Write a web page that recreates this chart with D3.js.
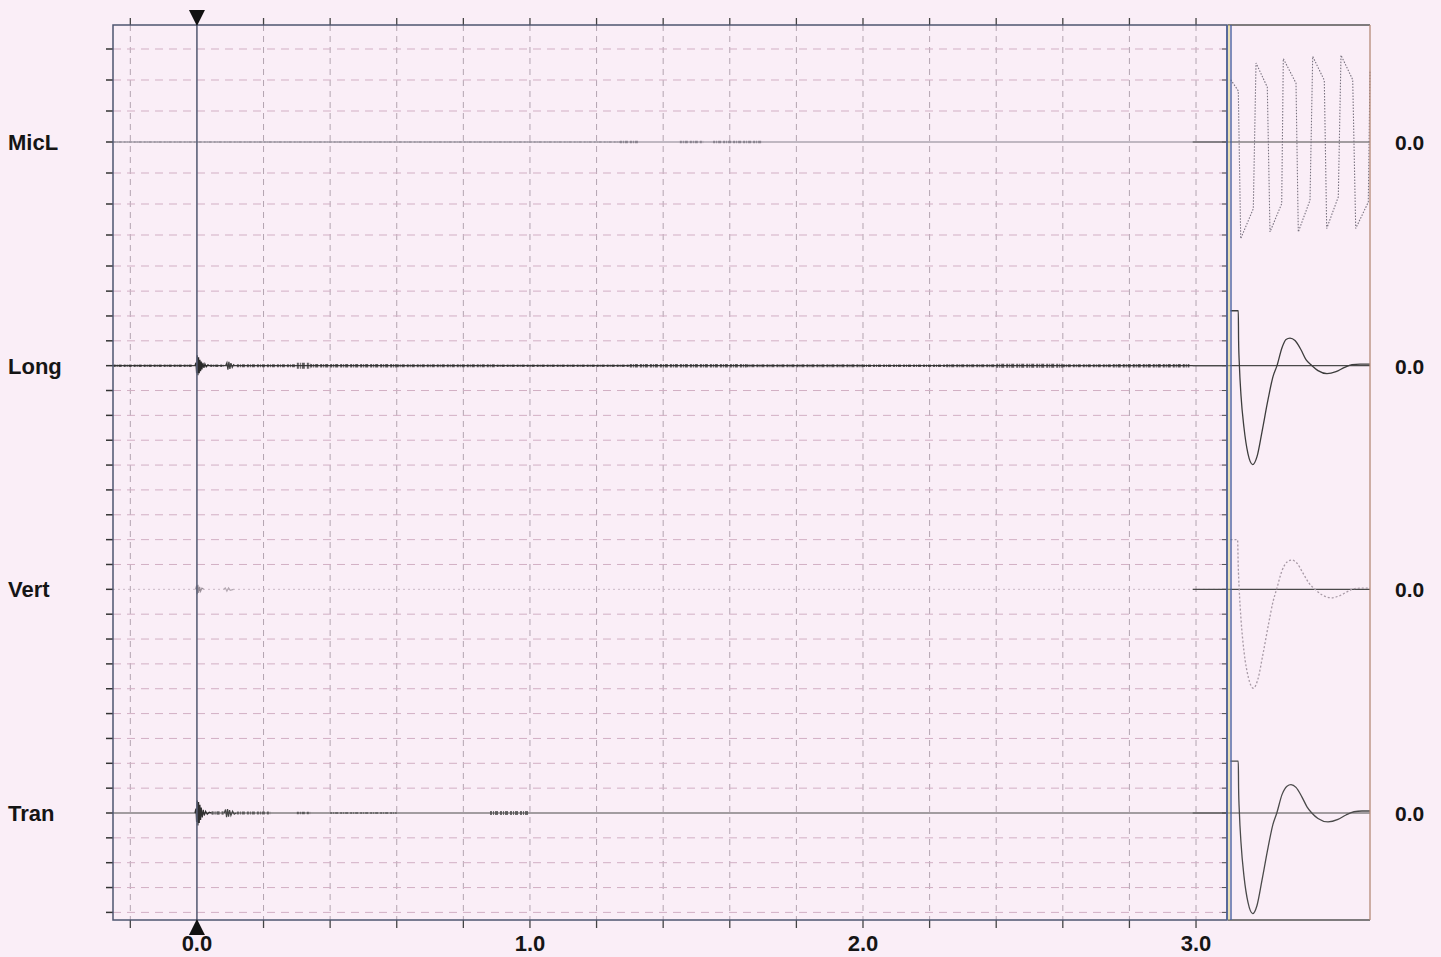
<!DOCTYPE html>
<html>
<head>
<meta charset="utf-8">
<script src="https://cdn.jsdelivr.net/npm/d3@7"></script>
<style>
  body { margin: 0; background: #faeef7; }
  svg { display: block; }
  text { font-family: "Liberation Sans", Arial, sans-serif; font-weight: bold; fill: #151515; }
</style>
</head>
<body>
<script>
// channels and their tick divisions (relative to the 0.0 baseline, + is up)
const channels = ["MicL", "Long", "Vert", "Tran"];
const tickFrom = [-4, -5, -5, -4];
const tickTo = [3, 3, 3, 3];
const zeroLabels = ["0.0", "0.0", "0.0", "0.0"];

// time axis (s)
const timeTicks = [-0.2, 0, 0.2, 0.4, 0.6, 0.8, 1.0, 1.2, 1.4, 1.6, 1.8, 2.0, 2.2, 2.4, 2.6, 2.8, 3.0];
const timeLabelValues = [0, 1, 2, 3];
const timeLabels = ["0.0", "1.0", "2.0", "3.0"];
const cursorTime = 0;

// impact bursts in main window: [time s, value div]
const longBurst = [[-0.006, 0], [-0.003, 0.12], [-0.001, -0.3], [0.001, 0.42], [0.003, -0.38], [0.005, 0.34], [0.007, -0.3], [0.009, 0.24], [0.011, -0.22], [0.013, 0.17], [0.015, -0.15], [0.018, 0.11], [0.021, -0.09], [0.024, 0.07], [0.028, -0.05], [0.033, 0.04], [0.038, 0]];
const longBurst2 = [[0.086, 0], [0.09, 0.12], [0.093, -0.16], [0.096, 0.15], [0.099, -0.13], [0.102, 0.1], [0.106, -0.07], [0.11, 0.04], [0.114, 0]];
const vertBurst = [[-0.004, 0], [-0.001, 0.15], [0.001, -0.2], [0.003, 0.18], [0.005, -0.14], [0.008, 0.1], [0.011, -0.08], [0.015, 0.05], [0.02, 0]];
const vertBurst2 = [[0.08, 0], [0.085, 0.06], [0.09, -0.07], [0.095, 0.06], [0.1, -0.04], [0.11, 0]];
const tranBurst = [[-0.006, 0], [-0.003, 0.18], [-0.001, -0.36], [0.001, 0.5], [0.003, -0.5], [0.005, 0.44], [0.007, -0.4], [0.009, 0.33], [0.011, -0.28], [0.013, 0.22], [0.016, -0.18], [0.019, 0.13], [0.022, -0.1], [0.026, 0.07], [0.031, -0.05], [0.037, 0.03], [0.044, 0]];
const tranBurst2 = [[0.082, 0], [0.086, 0.14], [0.089, -0.17], [0.092, 0.16], [0.095, -0.15], [0.098, 0.12], [0.102, -0.1], [0.107, 0.07], [0.112, -0.05], [0.118, 0]];

// background noise bands: [t start, t end, half amplitude div]
const longNoise = [[-0.25, -0.01, 0.05], [0.04, 0.08, 0.05], [0.12, 0.3, 0.06], [0.3, 0.34, 0.12], [0.34, 0.6, 0.07], [0.6, 0.9, 0.06], [0.9, 1.3, 0.05], [1.3, 1.65, 0.07], [1.65, 2.0, 0.06], [2.0, 2.25, 0.05], [2.25, 2.4, 0.06], [2.4, 2.6, 0.08], [2.6, 2.75, 0.06], [2.75, 2.98, 0.07]];
const micNoise = [[-0.25, 1.27, 0.02], [1.27, 1.33, 0.04], [1.45, 1.52, 0.04], [1.55, 1.7, 0.04]];
const tranNoise = [[0.044, 0.08, 0.07], [0.12, 0.22, 0.06], [0.3, 0.34, 0.05], [0.4, 0.6, 0.03], [0.88, 1.0, 0.08]];

// zoomed window (ms): [time, value div]
const micZoom = [[0.35, 2.01], [4.15, 1.65], [5.35, -3.12], [11.65, -2.15], [13, 2.55], [18.65, 1.77], [20, -2.9], [25.85, -1.99], [26.65, 2.69], [33, 1.9], [34.15, -2.9], [40, -1.88], [41.35, 2.76], [47.15, 1.99], [48.35, -2.79], [54.15, -1.77], [55.5, 2.8], [61.35, 2.01], [62.85, -2.79], [69.15, -1.94], [70, 2.3]];
const longZoom = [[0.25, 2.21], [4.15, 2.21], [4.3, 1.0], [4.7, 0], [5.5, -1.2], [7, -2.5], [9, -3.55], [11.35, -3.98], [13.5, -3.66], [16, -2.66], [19, -1.37], [21.5, -0.44], [23.5, 0], [26, 0.72], [28, 1.05], [30, 1.11], [32.5, 1.01], [35.5, 0.64], [38, 0.24], [41, 0], [44, -0.2], [48.5, -0.32], [53, -0.24], [57, -0.08], [61, 0.04], [65, 0.06], [70, 0.06]];
const vertZoom = [[0.25, 2.0], [3.8, 2.0], [4.1, 1.0], [4.6, 0], [5.5, -1.2], [7, -2.5], [9.2, -3.55], [11.7, -3.98], [14, -3.6], [16.5, -2.6], [19.5, -1.3], [21.5, -0.5], [23.3, 0], [26, 0.75], [28.5, 1.1], [30.8, 1.18], [33.5, 1.05], [36.5, 0.65], [39.5, 0.25], [42.5, 0], [46, -0.22], [50.8, -0.34], [55, -0.25], [59, -0.08], [63, 0.04], [70, 0.05]];
const tranZoom = [[0.25, 2.09], [4.15, 2.09], [4.3, 1.0], [4.7, 0], [5.5, -1.2], [7, -2.55], [9, -3.6], [11.35, -4.05], [13.5, -3.72], [16, -2.7], [19, -1.4], [21.5, -0.45], [23.4, 0], [26, 0.74], [28.5, 1.08], [30.5, 1.14], [33, 1.03], [36, 0.64], [38.5, 0.25], [40.9, 0], [44, -0.22], [49, -0.36], [54, -0.26], [58, -0.08], [62, 0.05], [66, 0.08], [70, 0.08]];

// ---- layout ----
const W = 1441, H = 957;
const mLeft = 113, mRight = 1227, mTop = 25, mBottom = 920;
const zoomLeft = 1231, zoomRight = 1370;
const divPx = [31, 24.85, 24.85, 24.85];

const svg = d3.select("body").append("svg").attr("width", W).attr("height", H);

const xScale = d3.scaleLinear().domain([-0.252, 3.093]).range([mLeft, mRight]);
const zScale = d3.scaleLinear().domain([0, 70]).range([zoomLeft - 1, zoomRight]);
const baseScale = d3.scalePoint().domain(channels).range([142, 813]);
const yScales = channels.map((c, i) =>
  d3.scaleLinear().domain([-1, 1]).range([baseScale(c) + divPx[i], baseScale(c) - divPx[i]])
);

// vertical dashed grid
svg.append("g")
  .selectAll("line")
  .data(timeTicks.filter((t) => t !== cursorTime))
  .enter()
  .append("line")
  .attr("x1", (d) => xScale(d)).attr("x2", (d) => xScale(d))
  .attr("y1", mTop).attr("y2", mBottom)
  .attr("stroke", "#b3a4b0")
  .attr("stroke-width", 1)
  .attr("stroke-dasharray", "6,5");

// horizontal dashed grid + side ticks per channel
channels.forEach((c, i) => {
  const y = yScales[i];
  const ticks = d3.range(tickFrom[i], tickTo[i] + 1);
  const g = svg.append("g");
  g.selectAll("line.grid")
    .data(ticks.filter((d) => d !== 0))
    .enter()
    .append("line")
    .attr("class", "grid")
    .attr("x1", mLeft).attr("x2", mRight)
    .attr("y1", (d) => y(d)).attr("y2", (d) => y(d))
    .attr("stroke", "#d2afc4")
    .attr("stroke-width", 1)
    .attr("stroke-dasharray", "8,6");
  g.selectAll("line.lt")
    .data(ticks)
    .enter()
    .append("line")
    .attr("class", "lt")
    .attr("x1", mLeft - 7).attr("x2", mLeft)
    .attr("y1", (d) => y(d)).attr("y2", (d) => y(d))
    .attr("stroke", "#333")
    .attr("stroke-width", 1.5);
  g.selectAll("line.rt")
    .data(ticks)
    .enter()
    .append("line")
    .attr("class", "rt")
    .attr("x1", mRight - 5).attr("x2", mRight)
    .attr("y1", (d) => y(d)).attr("y2", (d) => y(d))
    .attr("stroke", "#555")
    .attr("stroke-width", 1);
});

// top and bottom time ticks
svg.append("g").selectAll("line")
  .data(timeTicks).enter().append("line")
  .attr("x1", (d) => xScale(d)).attr("x2", (d) => xScale(d))
  .attr("y1", mTop - 7).attr("y2", mTop)
  .attr("stroke", "#444").attr("stroke-width", 1.3);
svg.append("g").selectAll("line")
  .data(timeTicks).enter().append("line")
  .attr("x1", (d) => xScale(d)).attr("x2", (d) => xScale(d))
  .attr("y1", mBottom).attr("y2", mBottom + 8)
  .attr("stroke", "#444").attr("stroke-width", 1.3);

// time labels
svg.append("g").selectAll("text")
  .data(timeLabelValues).enter().append("text")
  .attr("x", (d) => xScale(d))
  .attr("y", 951)
  .attr("text-anchor", "middle")
  .style("font-size", "22px")
  .text((d, i) => timeLabels[i]);

// baselines in main window
const baseColor = ["#85808c", "#3c3c3c", "#cbbac7", "#4a4a4a"];
const baseWidth = [1, 1.2, 1, 1.1];
channels.forEach((c, i) => {
  svg.append("line")
    .attr("x1", mLeft).attr("x2", mRight)
    .attr("y1", yScales[i](0)).attr("y2", yScales[i](0))
    .attr("stroke", baseColor[i])
    .attr("stroke-width", baseWidth[i])
    .attr("stroke-dasharray", i === 2 ? "2,3" : null);
  // darker reference stub near the end and through the zoom window
  svg.append("line")
    .attr("x1", xScale(2.99)).attr("x2", zoomRight)
    .attr("y1", yScales[i](0)).attr("y2", yScales[i](0))
    .attr("stroke", "#4a4a4a")
    .attr("stroke-width", 1.2);
});

// noise bands drawn as speckled thick strokes
const noiseSets = [micNoise, longNoise, null, tranNoise];
const noiseColor = ["#77727e", "#2e2e2e", null, "#444"];
channels.forEach((c, i) => {
  if (!noiseSets[i]) return;
  svg.append("g").selectAll("line")
    .data(noiseSets[i]).enter().append("line")
    .attr("x1", (d) => xScale(d[0]))
    .attr("x2", (d) => xScale(d[1]))
    .attr("y1", yScales[i](0)).attr("y2", yScales[i](0))
    .attr("stroke", noiseColor[i])
    .attr("stroke-width", (d) => Math.max(1, yScales[i](-d[2]) - yScales[i](d[2])))
    .attr("stroke-dasharray", "2,1,1,1,3,2")
    .attr("opacity", 0.75);
});

// bursts
const mainLine = (i) => d3.line().x((d) => xScale(d[0])).y((d) => yScales[i](d[1]));
const bursts = [
  [1, longBurst, "#2a2a2a"], [1, longBurst2, "#3a3a3a"],
  [2, vertBurst, "#9a8f98"], [2, vertBurst2, "#b4a8b2"],
  [3, tranBurst, "#2f2f2f"], [3, tranBurst2, "#444"],
];
bursts.forEach(([i, data, col]) => {
  svg.append("path")
    .datum(data)
    .attr("d", mainLine(i))
    .attr("fill", "none")
    .attr("stroke", col)
    .attr("stroke-width", 1.2);
});

// zoom window traces
const zoomLine = (i, curve) =>
  d3.line().x((d) => zScale(d[0])).y((d) => yScales[i](d[1])).curve(curve);
const zoomSets = [
  [0, micZoom, d3.curveLinear, "#7a7380", "1.5,1.5", 1.1],
  [1, longZoom, d3.curveMonotoneX, "#3d3d3d", null, 1.3],
  [2, vertZoom, d3.curveMonotoneX, "#a89aa6", "2,2", 1.3],
  [3, tranZoom, d3.curveMonotoneX, "#4a4a4a", null, 1.3],
];
zoomSets.forEach(([i, data, curve, col, dash, sw]) => {
  svg.append("path")
    .datum(data)
    .attr("d", zoomLine(i, curve))
    .attr("fill", "none")
    .attr("stroke", col)
    .attr("stroke-width", sw)
    .attr("stroke-dasharray", dash);
});

// frames
svg.append("rect")
  .attr("x", mLeft).attr("y", mTop)
  .attr("width", mRight - mLeft).attr("height", mBottom - mTop)
  .attr("fill", "none")
  .attr("stroke", "#4d5670")
  .attr("stroke-width", 1.5);
svg.append("line").attr("x1", mRight + 1).attr("x2", zoomRight).attr("y1", mTop).attr("y2", mTop)
  .attr("stroke", "#555").attr("stroke-width", 1.5);
svg.append("line").attr("x1", mRight + 1).attr("x2", zoomRight).attr("y1", mBottom).attr("y2", mBottom)
  .attr("stroke", "#555").attr("stroke-width", 1.5);
svg.append("line").attr("x1", zoomRight).attr("x2", zoomRight).attr("y1", mTop).attr("y2", mBottom)
  .attr("stroke", "#b58a78").attr("stroke-width", 1.3);
svg.append("line").attr("x1", mRight + 2).attr("x2", mRight + 2).attr("y1", mTop).attr("y2", mBottom)
  .attr("stroke", "#d8d070").attr("stroke-width", 1);
svg.append("line").attr("x1", zoomLeft).attr("x2", zoomLeft).attr("y1", mTop).attr("y2", mBottom)
  .attr("stroke", "#4a62a0").attr("stroke-width", 1.4);
svg.append("line").attr("x1", mRight).attr("x2", mRight).attr("y1", mTop).attr("y2", mBottom)
  .attr("stroke", "#4a62a0").attr("stroke-width", 1.4);

// cursor with markers
const cx = xScale(cursorTime);
svg.append("line")
  .attr("x1", cx).attr("x2", cx).attr("y1", mTop).attr("y2", mBottom)
  .attr("stroke", "#5a6078")
  .attr("stroke-width", 1.6);
svg.append("path")
  .attr("d", `M${cx - 8},10 L${cx + 8},10 L${cx},26 Z`)
  .attr("fill", "#111");
svg.append("path")
  .attr("d", `M${cx - 8},935 L${cx + 8},935 L${cx},919 Z`)
  .attr("fill", "#111");

// channel labels
svg.append("g").selectAll("text")
  .data(channels).enter().append("text")
  .attr("x", 8)
  .attr("y", (d) => baseScale(d) + 8)
  .style("font-size", "22px")
  .text((d) => d);
svg.append("g").selectAll("text")
  .data(channels).enter().append("text")
  .attr("x", 1395)
  .attr("y", (d) => baseScale(d) + 8)
  .style("font-size", "21px")
  .text((d, i) => zeroLabels[i]);
</script>
</body>
</html>
